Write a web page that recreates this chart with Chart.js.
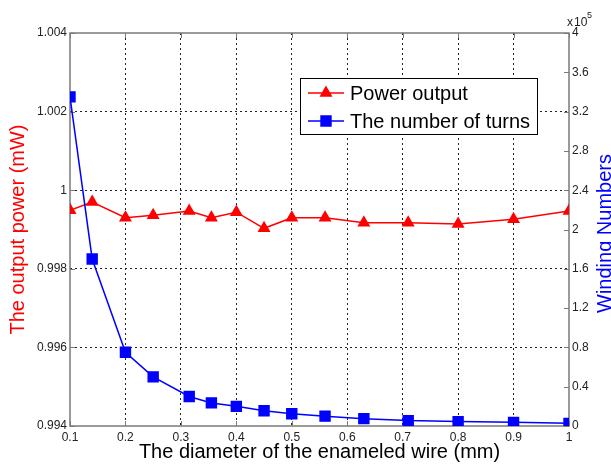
<!DOCTYPE html>
<html lang="en">
<head>
<meta charset="UTF-8">
<title>Output power and winding numbers vs wire diameter</title>
<script src="https://cdn.jsdelivr.net/npm/chart.js"></script>
<style>
  html, body { margin: 0; padding: 0; background: #fff; }
  #wrap { width: 611px; height: 465px; }
</style>
</head>
<body>
<div id="wrap"><canvas id="chart" width="611" height="465"></canvas></div>
<script>
// wire diameters (mm)
const diameters = [0.1, 0.14, 0.2, 0.25, 0.315, 0.355, 0.4, 0.45, 0.5, 0.56, 0.63, 0.71, 0.8, 0.9, 1.0];
// output power (mW)
const powerOutput = [0.99949, 0.9997, 0.9993, 0.99936, 0.99947, 0.9993, 0.99944, 0.99903, 0.9993, 0.9993, 0.99917, 0.99917, 0.99914, 0.99926, 0.99947];
// number of turns, in units of 10^5
const turns = [3.35, 1.70, 0.75, 0.50, 0.30, 0.235, 0.20, 0.155, 0.125, 0.10, 0.075, 0.055, 0.045, 0.037, 0.027];

const xTicks = [0.1, 0.2, 0.3, 0.4, 0.5, 0.6, 0.7, 0.8, 0.9, 1];
const xTickLabels = ['0.1', '0.2', '0.3', '0.4', '0.5', '0.6', '0.7', '0.8', '0.9', '1'];
const powerTicks = [0.994, 0.996, 0.998, 1, 1.002, 1.004];
const powerTickLabels = ['0.994', '0.996', '0.998', '1', '1.002', '1.004'];
const turnTicks = [0, 0.4, 0.8, 1.2, 1.6, 2, 2.4, 2.8, 3.2, 3.6, 4];
const turnTickLabels = ['0', '0.4', '0.8', '1.2', '1.6', '2', '2.4', '2.8', '3.2', '3.6', '4'];

const FONT = "Arial, 'Liberation Sans', sans-serif";
const RED = '#ff0000';
const BLUE = '#0000ff';

function fixTicks(values) {
  return scale => { scale.ticks = values.map(v => ({ value: v })); };
}
function labelFrom(values, labels) {
  return v => {
    const i = values.findIndex(t => Math.abs(t - v) < 1e-9);
    return i >= 0 ? labels[i] : '';
  };
}
// dotted grid only inside the box, not on the frame
function innerGrid(values) {
  return c => {
    const v = c.tick ? c.tick.value : null;
    if (v === values[0] || v === values[values.length - 1]) return 'rgba(0,0,0,0)';
    return '#222';
  };
}

const framePlugin = {
  id: 'frame',
  beforeDatasetsDraw(chart) {
    const { ctx, chartArea: a, scales } = chart;
    ctx.save();
    ctx.strokeStyle = '#7a7a7a';
    ctx.lineWidth = 1.5;
    ctx.strokeRect(a.left, a.top, a.right - a.left, a.bottom - a.top);
    ctx.lineWidth = 1;
    ctx.beginPath();
    turnTicks.forEach(v => {
      const y = Math.round(scales.yTurns.getPixelForValue(v)) + 0.5;
      ctx.moveTo(a.right, y); ctx.lineTo(a.right - 5, y);
    });
    powerTicks.forEach(v => {
      const y = Math.round(scales.yPower.getPixelForValue(v)) + 0.5;
      ctx.moveTo(a.left, y); ctx.lineTo(a.left + 5, y);
    });
    xTicks.forEach(v => {
      const x = Math.round(scales.x.getPixelForValue(v)) + 0.5;
      ctx.moveTo(x, a.bottom); ctx.lineTo(x, a.bottom - 5);
      ctx.moveTo(x, a.top); ctx.lineTo(x, a.top + 5);
    });
    ctx.stroke();
    ctx.restore();
  },
  afterDraw(chart) {
    const { ctx, chartArea: a } = chart;
    ctx.save();

    // exponent label above the right axis
    ctx.fillStyle = '#222';
    ctx.textBaseline = 'alphabetic';
    ctx.textAlign = 'left';
    ctx.font = '12px ' + FONT;
    ctx.fillText('x', a.right - 2, 26);
    ctx.fillText('10', a.right + 5, 26);
    ctx.font = '9px ' + FONT;
    ctx.fillText('5', a.right + 18, 18);

    // right axis title, reading bottom to top
    ctx.save();
    ctx.translate(611, (a.top + a.bottom) / 2 + 4);
    ctx.rotate(-Math.PI / 2);
    ctx.font = '20px ' + FONT;
    ctx.fillStyle = BLUE;
    ctx.textAlign = 'center';
    ctx.fillText('Winding Numbers', 0, 0);
    ctx.restore();

    // legend box
    const bx = 300, by = 78, bw = 237, bh = 56;
    ctx.fillStyle = '#fff';
    ctx.fillRect(bx, by, bw, bh);
    ctx.strokeStyle = '#000';
    ctx.lineWidth = 1;
    ctx.strokeRect(bx + 0.5, by + 0.5, bw, bh);
    const items = [
      { text: 'Power output', color: RED, style: 'triangle', r: 6, y: 93 },
      { text: 'The number of turns', color: BLUE, style: 'rect', r: 7, y: 121 }
    ];
    items.forEach(it => {
      ctx.strokeStyle = it.color;
      ctx.lineWidth = 1.5;
      ctx.beginPath();
      ctx.moveTo(308, it.y); ctx.lineTo(344, it.y);
      ctx.stroke();
      ctx.fillStyle = it.color;
      Chart.helpers.drawPoint(ctx, { pointStyle: it.style, radius: it.r, borderWidth: 1 }, 326, it.y);
      ctx.fill();
      ctx.fillStyle = '#000';
      ctx.font = '20px ' + FONT;
      ctx.textAlign = 'left';
      ctx.textBaseline = 'middle';
      ctx.fillText(it.text, 350, it.y + 1);
    });
    ctx.restore();
  }
};

new Chart(document.getElementById('chart'), {
  type: 'line',
  data: {
    datasets: [
      {
        label: 'Power output',
        data: diameters.map((d, i) => ({ x: d, y: powerOutput[i] })),
        yAxisID: 'yPower',
        borderColor: RED,
        backgroundColor: RED,
        pointBackgroundColor: RED,
        pointBorderColor: RED,
        pointStyle: 'triangle',
        pointRadius: 6,
        borderWidth: 1.5,
        tension: 0,
        order: 1
      },
      {
        label: 'The number of turns',
        data: diameters.map((d, i) => ({ x: d, y: turns[i] })),
        yAxisID: 'yTurns',
        borderColor: BLUE,
        backgroundColor: BLUE,
        pointBackgroundColor: BLUE,
        pointBorderColor: BLUE,
        pointStyle: 'rect',
        pointRadius: 7,
        borderWidth: 1.5,
        tension: 0,
        order: 0
      }
    ]
  },
  options: {
    responsive: false,
    animation: false,
    events: [],
    layout: { padding: { top: 33, left: 0, right: 0, bottom: 0 } },
    plugins: {
      legend: { display: false },
      tooltip: { enabled: false }
    },
    scales: {
      x: {
        type: 'linear',
        min: 0.1,
        max: 1,
        afterBuildTicks: fixTicks(xTicks),
        afterFit: s => { s.height = 39; },
        grid: { color: innerGrid(xTicks), lineWidth: 1, drawTicks: false },
        border: { display: false, dash: [2, 3] },
        ticks: {
          callback: labelFrom(xTicks, xTickLabels),
          color: '#222',
          font: { family: FONT, size: 12 },
          padding: 4,
          maxRotation: 0,
          autoSkip: false
        },
        title: {
          display: true,
          text: 'The diameter of the enameled wire (mm)',
          color: '#000',
          font: { family: FONT, size: 20 },
          padding: { top: 0, bottom: 1 }
        }
      },
      yPower: {
        type: 'linear',
        position: 'left',
        min: 0.994,
        max: 1.004,
        afterBuildTicks: fixTicks(powerTicks),
        afterFit: s => { s.width = 70; },
        grid: { color: innerGrid(powerTicks), lineWidth: 1, drawTicks: false },
        border: { display: false, dash: [2, 3] },
        ticks: {
          callback: labelFrom(powerTicks, powerTickLabels),
          color: '#222',
          font: { family: FONT, size: 12 },
          padding: 3,
          autoSkip: false
        },
        title: {
          display: true,
          text: 'The output power (mW)',
          color: RED,
          font: { family: FONT, size: 20 },
          padding: { top: 6, bottom: 0 }
        }
      },
      yTurns: {
        type: 'linear',
        position: 'right',
        min: 0,
        max: 4,
        afterBuildTicks: fixTicks(turnTicks),
        afterFit: s => { s.width = 42; },
        grid: { drawOnChartArea: false, drawTicks: false },
        border: { display: false },
        ticks: {
          callback: labelFrom(turnTicks, turnTickLabels),
          color: '#222',
          font: { family: FONT, size: 12 },
          padding: 3,
          autoSkip: false
        }
      }
    }
  },
  plugins: [framePlugin]
});
</script>
</body>
</html>
